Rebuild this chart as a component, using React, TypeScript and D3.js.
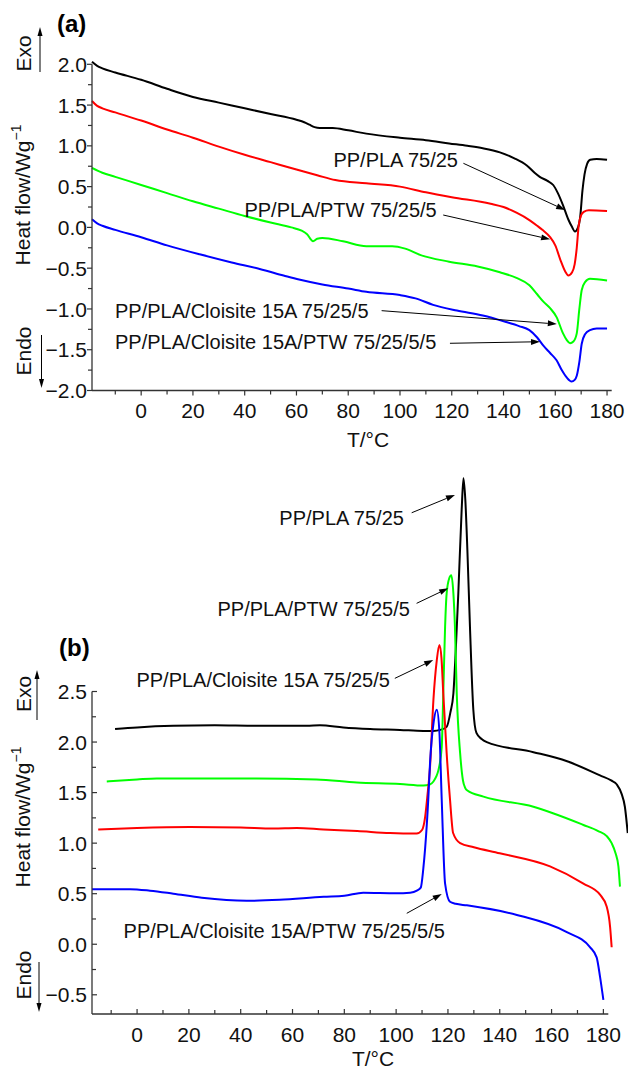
import React from "react";
import * as d3 from "d3";

type Pt = [number, number];

// ---------- Panel (a): heating scans, T/°C vs heat flow ----------
const aBlack: Pt[] = [[-19, 2.03], [-17, 1.98], [-15, 1.95], [-10, 1.9], [0, 1.81], [10, 1.7], [20, 1.6], [30, 1.53], [40, 1.46], [50, 1.39], [60, 1.32], [63, 1.29], [65, 1.26], [67, 1.23], [69, 1.22], [74, 1.22], [80, 1.19], [87, 1.15], [100, 1.1], [110, 1.07], [119, 1.03], [126, 1.0], [132, 0.97], [138.6, 0.92], [144, 0.85], [149, 0.76], [152, 0.67], [154, 0.62], [157, 0.57], [159.2, 0.52], [161, 0.42], [163, 0.27], [165, 0.1], [166.4, 0.01], [167.6, -0.05], [168.8, 0.0], [169.6, 0.12], [170.5, 0.45], [171.3, 0.65], [172.3, 0.78], [173.5, 0.83], [176, 0.84], [180, 0.83]];
const aRed: Pt[] = [[-19, 1.55], [-17, 1.49], [-15, 1.46], [-10, 1.41], [0, 1.31], [10, 1.2], [20, 1.1], [30, 0.99], [40, 0.89], [50, 0.8], [60, 0.71], [68, 0.64], [75, 0.58], [87, 0.54], [100, 0.5], [110, 0.43], [120, 0.37], [135, 0.29], [140, 0.25], [145, 0.18], [150, 0.09], [153, 0.02], [155, -0.03], [158, -0.12], [160, -0.22], [162, -0.4], [164, -0.55], [165, -0.59], [166.5, -0.55], [167.5, -0.45], [168.3, -0.25], [169, 0.01], [170, 0.15], [171, 0.19], [173, 0.21], [180, 0.2]];
const aGreen: Pt[] = [[-19, 0.73], [-15, 0.67], [-10, 0.62], [0, 0.52], [10, 0.42], [20, 0.32], [30, 0.23], [40, 0.14], [50, 0.06], [58, 0.0], [62, -0.04], [64, -0.08], [66.4, -0.17], [68, -0.14], [70, -0.13], [78, -0.17], [87, -0.23], [97, -0.23], [102, -0.26], [108, -0.34], [119, -0.42], [130, -0.48], [138.6, -0.55], [145, -0.62], [150, -0.71], [153, -0.82], [155.4, -0.91], [158, -0.99], [160.5, -1.1], [163, -1.3], [164.4, -1.38], [165.7, -1.42], [167, -1.4], [168.3, -1.3], [169.3, -1.0], [170.2, -0.77], [171.5, -0.67], [173.4, -0.63], [180, -0.65]];
const aBlue: Pt[] = [[-19, 0.1], [-17, 0.05], [-15, 0.02], [-10, -0.03], [0, -0.12], [10, -0.22], [22.6, -0.33], [35, -0.43], [45.8, -0.51], [55, -0.59], [61, -0.64], [70, -0.7], [80, -0.75], [87, -0.79], [100, -0.83], [106, -0.87], [112.8, -0.95], [122, -1.02], [132, -1.08], [141, -1.16], [146, -1.21], [150, -1.26], [153, -1.35], [155.4, -1.45], [158, -1.54], [160.5, -1.63], [162.5, -1.75], [164.4, -1.84], [166.3, -1.89], [167.5, -1.87], [168.3, -1.82], [169.3, -1.65], [170.2, -1.43], [171.5, -1.31], [173.4, -1.26], [176, -1.24], [180, -1.24]];

// ---------- Panel (b): cooling scans ----------
const bBlack: Pt[] = [[-8.5, 2.13], [0, 2.145], [14, 2.16], [30, 2.165], [46, 2.16], [65.5, 2.16], [70.6, 2.165], [79.6, 2.145], [90, 2.13], [101.5, 2.12], [110.5, 2.11], [114.4, 2.11], [117, 2.12], [119.5, 2.15], [121, 2.3], [122.1, 2.48], [123, 2.9], [124, 3.47], [125.3, 4.3], [126, 4.61], [126.7, 4.4], [127.5, 3.9], [128.5, 3.14], [129.8, 2.32], [131, 2.09], [133, 2.03], [135, 2.0], [153, 1.9], [166, 1.81], [178.7, 1.67], [183, 1.62], [185.2, 1.58], [187, 1.49], [188.3, 1.36], [189.4, 1.1]];
const bGreen: Pt[] = [[-11.7, 1.61], [0, 1.63], [7.6, 1.64], [46, 1.64], [69.3, 1.63], [84.8, 1.6], [101.5, 1.585], [110.5, 1.57], [113, 1.58], [114.4, 1.61], [115.5, 1.66], [116.3, 1.72], [117.6, 1.95], [118.2, 2.48], [118.9, 3.14], [119.5, 3.47], [120.5, 3.62], [121.3, 3.65], [122.1, 3.47], [122.7, 3.14], [123.4, 2.48], [124.7, 1.89], [125.8, 1.62], [126.6, 1.55], [127.5, 1.52], [133.7, 1.46], [153, 1.36], [172.3, 1.18], [178, 1.12], [181.3, 1.07], [183.2, 1.0], [184.7, 0.9], [185.8, 0.77], [186.4, 0.57]];
const bRed: Pt[] = [[-15, 1.135], [0, 1.15], [20.4, 1.16], [40, 1.155], [52.6, 1.145], [61.6, 1.15], [71.9, 1.135], [85, 1.12], [97.6, 1.1], [107.9, 1.095], [110, 1.13], [111.2, 1.26], [112, 1.45], [113.1, 1.76], [114.4, 2.42], [115.7, 2.81], [116.7, 2.96], [117.5, 2.83], [118.2, 2.48], [119.5, 1.89], [120.8, 1.43], [122, 1.1], [124.7, 1.0], [130, 0.96], [140, 0.9], [159.4, 0.77], [172.3, 0.6], [178.7, 0.49], [181.3, 0.37], [182.6, 0.17], [183.2, -0.03]];
const bBlue: Pt[] = [[-17.4, 0.545], [-2.7, 0.545], [5, 0.53], [14, 0.5], [25, 0.46], [42.3, 0.43], [55, 0.44], [72, 0.47], [80, 0.48], [87.3, 0.51], [100, 0.505], [105.4, 0.51], [108, 0.53], [109.5, 0.56], [110.5, 0.75], [111.2, 0.95], [112.4, 1.43], [113.1, 1.8], [114.5, 2.2], [115.7, 2.32], [116.7, 2.1], [117.6, 1.43], [118.9, 0.6], [120.8, 0.42], [123, 0.4], [127.3, 0.385], [146.6, 0.29], [165.9, 0.12], [174.9, -0.03], [177.4, -0.13], [178.7, -0.32], [180, -0.55]];

const aColors = ["#000000", "#ff0000", "#00ff00", "#0000ff"];
const bColors = ["#000000", "#00ff00", "#ff0000", "#0000ff"];

// tick values
const aXTicks = [0, 20, 40, 60, 80, 100, 120, 140, 160, 180];
const aXMinor = [-10, 10, 30, 50, 70, 90, 110, 130, 150, 170];
const aYTicks = [-2, -1.5, -1, -0.5, 0, 0.5, 1, 1.5, 2];
const aYMinor = [-1.75, -1.25, -0.75, -0.25, 0.25, 0.75, 1.25, 1.75];
const bXTicks = [0, 20, 40, 60, 80, 100, 120, 140, 160, 180];
const bXMinor = [-10, 10, 30, 50, 70, 90, 110, 130, 150, 170];
const bYTicks = [-0.5, 0, 0.5, 1, 1.5, 2, 2.5];
const bYMinor = [-0.25, 0.25, 0.75, 1.25, 1.75, 2.25];

// annotations: label, text anchor point (T, value), arrow start, arrow tip (data units)
const aLabels = ["PP/PLA 75/25", "PP/PLA/PTW 75/25/5", "PP/PLA/Cloisite 15A 75/25/5", "PP/PLA/Cloisite 15A/PTW 75/25/5/5"];
const aAnchors: ["start" | "end", number, number][] = [["end", 122.4, 0.741], ["end", 114.2, 0.128], ["start", -10.1, -1.115], ["start", -10.1, -1.491]];
const aArrowFrom: Pt[] = [[124.5, 0.786], [116.7, 0.152], [92.9, -1.021], [119.3, -1.421]];
const aArrowTo: Pt[] = [[163.8, 0.213], [158, -0.146], [160.6, -1.185], [154.1, -1.402]];

const bLabels = ["PP/PLA 75/25", "PP/PLA/PTW 75/25/5", "PP/PLA/Cloisite 15A 75/25/5", "PP/PLA/Cloisite 15A/PTW 75/25/5/5"];
const bAnchors: ["start" | "end", number, number][] = [["end", 103.0, 4.147], ["end", 105.3, 3.247], ["end", 97.6, 2.547], ["end", 118.8, 0.059]];
const bArrowFrom: Pt[] = [[106.0, 4.268], [107.9, 3.372], [99.5, 2.63], [104.1, 0.306]];
const bArrowTo: Pt[] = [[122.7, 4.444], [120.1, 3.521], [114.3, 2.811], [117.6, 0.497]];

const FONT = "'Liberation Sans', Arial, Helvetica, sans-serif";
const fmt = d3.format(".1f");

type Scale = d3.ScaleLinear<number, number>;

function Arrow({ x1, y1, x2, y2, len = 9, half = 3 }: { x1: number; y1: number; x2: number; y2: number; len?: number; half?: number }) {
  const dx = x2 - x1, dy = y2 - y1;
  const L = Math.hypot(dx, dy);
  const ux = dx / L, uy = dy / L;
  const bx = x2 - ux * len, by = y2 - uy * len;
  const px = -uy * half, py = ux * half;
  return (
    <g>
      <line x1={x1} y1={y1} x2={bx} y2={by} stroke="#000" strokeWidth={1} />
      <path d={`M${x2},${y2}L${bx + px},${by + py}L${bx - px},${by - py}Z`} fill="#000" />
    </g>
  );
}

function Panel(props: {
  x: Scale; y: Scale; series: Pt[][]; colors: string[];
  xTicks: number[]; xMinor: number[]; yTicks: number[]; yMinor: number[];
  inward: boolean; yLabelEnd: number;
  labels: string[]; anchors: ["start" | "end", number, number][]; from: Pt[]; to: Pt[];
  panelLabel: string; panelLabelPos: Pt;
  exo: { cy: number; ax: number; a1: number; a2: number };
  endo: { cy: number; ax: number; a1: number; a2: number };
  yTitleCy: number; xTitleCx: number; xTitleOffset: number;
}) {
  const { x, y, series, colors } = props;
  const [x0, x1] = x.range();
  const [yb] = y.range();
  const dir = props.inward ? 1 : -1;
  const line = d3.line<Pt>().x(d => x(d[0])).y(d => y(d[1])).curve(d3.curveMonotoneX);
  const yAxisTop = y(props.yTicks[props.yTicks.length - 1]);
  const axisColor = "#333";
  return (
    <g>
      {series.map((s, i) => (
        <path key={i} d={line(s) || ""} fill="none" stroke={colors[i]} strokeWidth={2} strokeLinejoin="round" />
      ))}
      {/* axes */}
      <line x1={x0} x2={x0} y1={yAxisTop} y2={yb} stroke={axisColor} strokeWidth={1.3} />
      <line x1={x0} x2={x1} y1={yb} y2={yb} stroke={axisColor} strokeWidth={1.3} />
      {props.yTicks.map(t => (
        <g key={"yt" + t}>
          <line x1={x0} x2={x0 + dir * 5} y1={y(t)} y2={y(t)} stroke={axisColor} strokeWidth={1.2} />
          <text x={props.yLabelEnd} y={y(t)} dy="0.36em" textAnchor="end" fontSize={21} fontFamily={FONT} fill="#111">{fmt(t)}</text>
        </g>
      ))}
      {props.yMinor.map(t => (
        <line key={"ym" + t} x1={x0} x2={x0 + dir * 4} y1={y(t)} y2={y(t)} stroke={axisColor} strokeWidth={1.2} />
      ))}
      {props.xTicks.map(t => (
        <g key={"xt" + t}>
          <line x1={x(t)} x2={x(t)} y1={yb} y2={yb - dir * 5} stroke={axisColor} strokeWidth={1.2} />
          <text x={x(t)} y={yb + 27.5} textAnchor="middle" fontSize={21} fontFamily={FONT} fill="#111">{String(t)}</text>
        </g>
      ))}
      {props.xMinor.map(t => (
        <line key={"xm" + t} x1={x(t)} x2={x(t)} y1={yb} y2={yb - dir * 4} stroke={axisColor} strokeWidth={1.2} />
      ))}
      {/* titles */}
      <text x={props.xTitleCx} y={yb + props.xTitleOffset} textAnchor="middle" fontSize={21} fontFamily={FONT} fill="#111">T/°C</text>
      <text transform={`translate(30,${props.yTitleCy}) rotate(-90)`} textAnchor="middle" fontSize={21} fontFamily={FONT} fill="#111">
        Heat flow/Wg<tspan fontSize={14} dy={-9}>−1</tspan>
      </text>
      <text transform={`translate(31,${props.exo.cy}) rotate(-90)`} textAnchor="middle" fontSize={21} fontFamily={FONT} fill="#111">Exo</text>
      <Arrow x1={props.exo.ax} y1={props.exo.a1} x2={props.exo.ax} y2={props.exo.a2} len={9} half={2.5} />
      <text transform={`translate(31,${props.endo.cy}) rotate(-90)`} textAnchor="middle" fontSize={21} fontFamily={FONT} fill="#111">Endo</text>
      <Arrow x1={props.endo.ax} y1={props.endo.a1} x2={props.endo.ax} y2={props.endo.a2} len={9} half={2.5} />
      <text x={props.panelLabelPos[0]} y={props.panelLabelPos[1]} fontSize={24} fontWeight="bold" fontFamily={FONT} fill="#000">{props.panelLabel}</text>
      {/* annotations */}
      {props.labels.map((lab, i) => (
        <g key={"lab" + i}>
          <text x={x(props.anchors[i][1])} y={y(props.anchors[i][2])} textAnchor={props.anchors[i][0]} fontSize={20} fontFamily={FONT} fill="#111">{lab}</text>
          <Arrow x1={x(props.from[i][0])} y1={y(props.from[i][1])} x2={x(props.to[i][0])} y2={y(props.to[i][1])} />
        </g>
      ))}
    </g>
  );
}

export default function App() {
  const xTop = d3.scaleLinear().domain([-19, 181.8]).range([92, 611.7]);
  const yTop = d3.scaleLinear().domain([-2, 2]).range([390.5, 64.3]);
  const xBot = d3.scaleLinear().domain([-17.4, 181.9]).range([92, 608.3]);
  const yBot = d3.scaleLinear().domain([-0.69, 2.5]).range([1014, 691.5]);
  return (
    <div style={{ position: "absolute", left: 0, top: 0 }}>
      <svg width={628} height={1072} viewBox="0 0 628 1072" style={{ display: "block", background: "#fff" }}>
        <rect width={628} height={1072} fill="#fff" />
        <Panel x={xTop} y={yTop} series={[aBlack, aRed, aGreen, aBlue]} colors={aColors}
          xTicks={aXTicks} xMinor={aXMinor} yTicks={aYTicks} yMinor={aYMinor}
          inward={false} yLabelEnd={87}
          labels={aLabels} anchors={aAnchors} from={aArrowFrom} to={aArrowTo}
          panelLabel="(a)" panelLabelPos={[57, 32]}
          exo={{ cy: 53.5, ax: 40, a1: 72, a2: 27 }}
          endo={{ cy: 351, ax: 41.5, a1: 335, a2: 388 }}
          yTitleCy={195} xTitleCx={368} xTitleOffset={56} />
        <Panel x={xBot} y={yBot} series={[bBlack, bGreen, bRed, bBlue]} colors={bColors}
          xTicks={bXTicks} xMinor={bXMinor} yTicks={bYTicks} yMinor={bYMinor}
          inward={true} yLabelEnd={87}
          labels={bLabels} anchors={bAnchors} from={bArrowFrom} to={bArrowTo}
          panelLabel="(b)" panelLabelPos={[59, 656]}
          exo={{ cy: 694, ax: 37, a1: 720, a2: 670 }}
          endo={{ cy: 975, ax: 39, a1: 962, a2: 1012 }}
          yTitleCy={817} xTitleCx={373} xTitleOffset={52} />
      </svg>
    </div>
  );
}
